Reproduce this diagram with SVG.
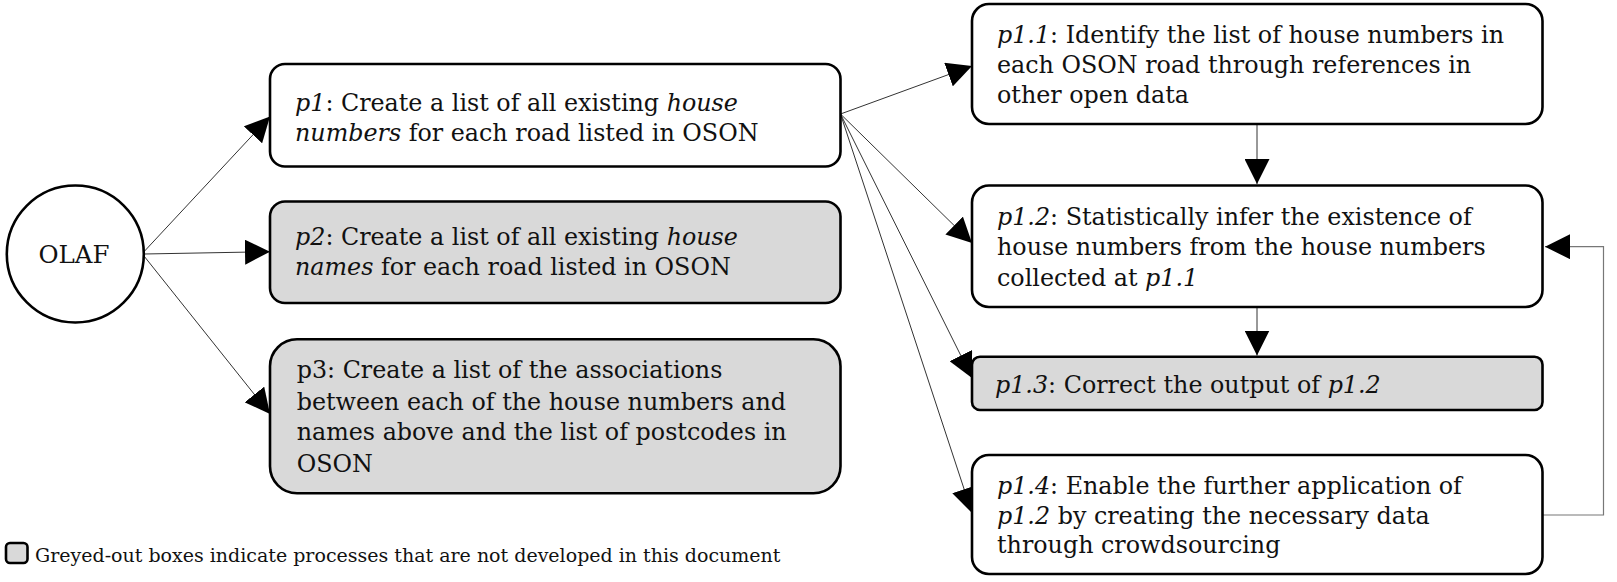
<svg xmlns="http://www.w3.org/2000/svg" width="1617" height="582" viewBox="0 0 1617 582">
<style>
  .box { stroke: #000; stroke-width: 2.6; }
  .white { fill: #fff; }
  .grey { fill: #d9d9d9; }
  .t { font-family: "DejaVu Serif", "Liberation Serif", serif; font-size: 23.8px; fill: #111; }
  .i { font-style: italic; }
  .leg { font-family: "DejaVu Serif", "Liberation Serif", serif; font-size: 19px; fill: #111; }
  .edge { fill: none; stroke: #333; stroke-width: 1; }
  .fb { fill: none; stroke: #777; stroke-width: 1.2; }
</style>
<defs>
  <marker id="ah" viewBox="0 0 25 25" refX="25" refY="12.5" markerWidth="25" markerHeight="25" markerUnits="userSpaceOnUse" orient="auto">
    <path d="M0,0 L25,12.5 L0,25 z" fill="#000"/>
  </marker>
</defs>
<rect width="1617" height="582" fill="#fff"/>

<g id="connectors">
  <path class="edge" d="M144,251.7 L270,116.5" marker-end="url(#ah)"/>
  <path class="edge" d="M144,254 L270,251.7" marker-end="url(#ah)"/>
  <path class="edge" d="M144,256 L270,414" marker-end="url(#ah)"/>
  <path class="edge" d="M840.5,114 L972,66" marker-end="url(#ah)"/>
  <path class="edge" d="M840.5,114 L972,243" marker-end="url(#ah)"/>
  <path class="edge" d="M840.5,114 L972,378" marker-end="url(#ah)"/>
  <path class="edge" d="M840.5,114 L972,513" marker-end="url(#ah)"/>
  <path class="edge" d="M1257,124 L1257,184" marker-end="url(#ah)"/>
  <path class="edge" d="M1257,307 L1257,355.5" marker-end="url(#ah)"/>
  <path class="fb" d="M1543,515 L1603.5,515 L1603.5,246.7 L1545,246.7" marker-end="url(#ah)"/>
</g>

<g id="olaf">
  <circle cx="75.3" cy="254" r="68.5" fill="#fff" stroke="#000" stroke-width="2.6"/>
  <text class="t" x="74" y="263" text-anchor="middle" style="font-size:24.5px">OLAF</text>
</g>

<g id="p1">
  <rect class="box white" x="270" y="64" width="570.5" height="102.5" rx="15"/>
  <text class="t" x="295" y="110.7"><tspan class="i">p1</tspan>: Create a list of all existing <tspan class="i">house</tspan></text>
  <text class="t" x="295" y="140.5"><tspan class="i">numbers</tspan> for each road listed in OSON</text>
</g>

<g id="p2">
  <rect class="box grey" x="270" y="201.5" width="570.5" height="101.5" rx="15"/>
  <text class="t" x="295" y="245"><tspan class="i">p2</tspan>: Create a list of all existing <tspan class="i">house</tspan></text>
  <text class="t" x="295" y="275"><tspan class="i">names</tspan> for each road listed in OSON</text>
</g>

<g id="p3">
  <rect class="box grey" x="270" y="339.3" width="570.5" height="154" rx="27"/>
  <text class="t" x="296.7" y="378.3">p3: Create a list of the associations</text>
  <text class="t" x="296.7" y="409.5">between each of the house numbers and</text>
  <text class="t" x="296.7" y="440.3">names above and the list of postcodes in</text>
  <text class="t" x="296.7" y="471.5">OSON</text>
</g>

<g id="p1_1">
  <rect class="box white" x="972" y="4" width="570.5" height="120" rx="17"/>
  <text class="t" x="997" y="43.3"><tspan class="i">p1.1</tspan>: Identify the list of house numbers in</text>
  <text class="t" x="997" y="72.7">each OSON road through references in</text>
  <text class="t" x="997" y="103.3">other open data</text>
</g>

<g id="p1_2">
  <rect class="box white" x="972" y="185.5" width="570.5" height="121.5" rx="17"/>
  <text class="t" x="997" y="225"><tspan class="i">p1.2</tspan>: Statistically infer the existence of</text>
  <text class="t" x="997" y="255">house numbers from the house numbers</text>
  <text class="t" x="997" y="286"><tspan>collected at </tspan><tspan class="i">p1.1</tspan></text>
</g>

<g id="p1_3">
  <rect class="box grey" x="972" y="356.7" width="570.5" height="53.3" rx="8"/>
  <text class="t" x="995" y="392.7"><tspan class="i">p1.3</tspan>: Correct the output of <tspan class="i">p1.2</tspan></text>
</g>

<g id="p1_4">
  <rect class="box white" x="972" y="455" width="570.5" height="119" rx="17"/>
  <text class="t" x="997" y="494"><tspan class="i">p1.4</tspan>: Enable the further application of</text>
  <text class="t" x="997" y="524"><tspan class="i">p1.2</tspan> by creating the necessary data</text>
  <text class="t" x="997" y="553.3">through crowdsourcing</text>
</g>

<g id="legend">
  <rect x="6" y="543" width="21.5" height="20" rx="4" fill="#d9d9d9" stroke="#000" stroke-width="2.6"/>
  <text class="leg" x="35" y="561.5">Greyed-out boxes indicate processes that are not developed in this document</text>
</g>
</svg>
